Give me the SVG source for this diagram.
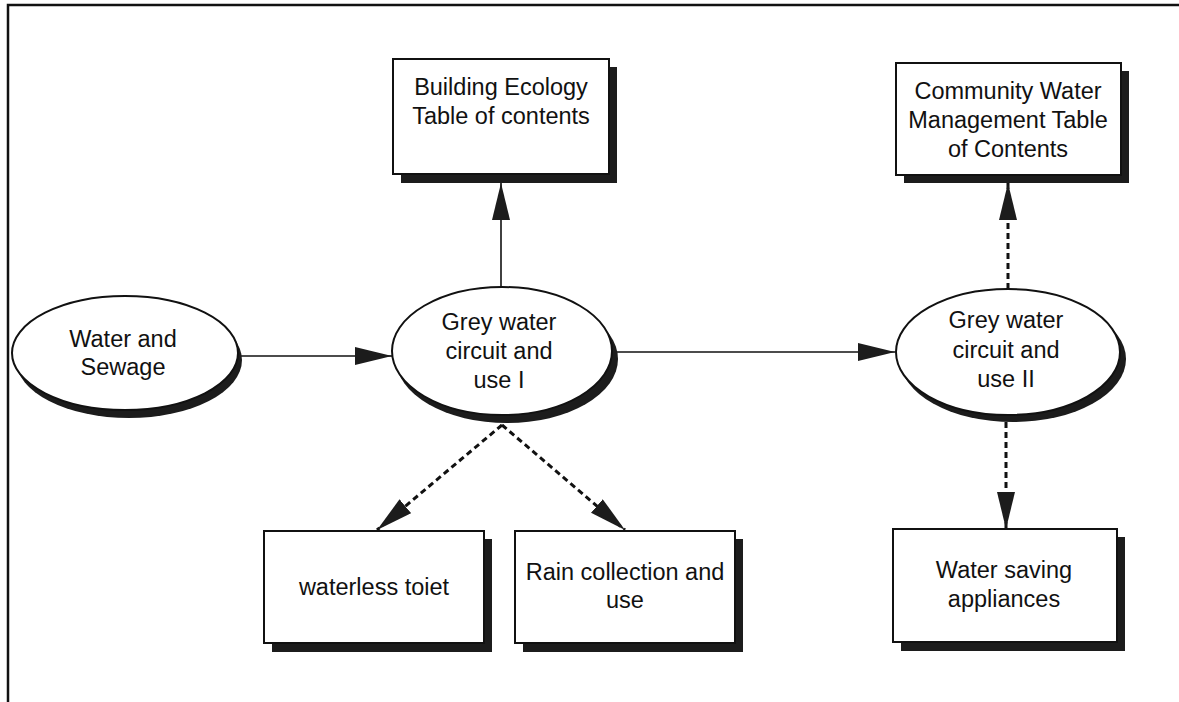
<svg xmlns="http://www.w3.org/2000/svg" width="1179" height="702" viewBox="0 0 1179 702">
  <style>
    .frame { fill: none; stroke: #111; stroke-width: 2.5; }
    .box { fill: #fff; stroke: #111; stroke-width: 2; }
    .shadow { fill: #1c1c1c; }
    .oval { fill: #fff; stroke: #111; stroke-width: 2; }
    .label { font-family: "Liberation Sans", Arial, sans-serif; font-size: 23.5px; fill: #111; text-anchor: middle; }
    .solid { fill: none; stroke: #111; stroke-width: 1.6; }
    .dashed { fill: none; stroke: #111; stroke-width: 3; stroke-dasharray: 6 4; }
  </style>
  <defs>
    <marker id="head" markerUnits="userSpaceOnUse" markerWidth="40" markerHeight="20" refX="37" refY="9" orient="auto">
      <path d="M0,0 L37,9 L0,18 Z" fill="#1c1c1c"/>
    </marker>
  </defs>

  <rect width="1179" height="702" fill="#fff"/>
  <!-- outer frame -->
  <path class="frame" d="M8,702 V5 H1179"/>

  <!-- connectors -->
  <g id="connectors">
    <line class="solid" x1="240" y1="356" x2="392" y2="356" marker-end="url(#head)"/>
    <line class="solid" x1="501" y1="287" x2="501" y2="183" marker-end="url(#head)"/>
    <line class="solid" x1="614" y1="352" x2="895" y2="352" marker-end="url(#head)"/>
    <line class="dashed" x1="1008" y1="289" x2="1008" y2="183" marker-end="url(#head)"/>
    <line class="dashed" x1="1006" y1="422" x2="1006" y2="529" marker-end="url(#head)"/>
    <line class="dashed" x1="502" y1="425" x2="377" y2="530" marker-end="url(#head)"/>
    <line class="dashed" x1="502" y1="425" x2="625" y2="530" marker-end="url(#head)"/>
  </g>

  <!-- Building Ecology -->
  <g id="building-ecology">
    <rect class="shadow" x="401" y="67" width="216" height="116"/>
    <rect class="box" x="393" y="59" width="216" height="115"/>
    <text class="label" x="501" y="95">Building Ecology</text>
    <text class="label" x="501" y="124">Table of contents</text>
  </g>

  <!-- Community Water Management -->
  <g id="community-water">
    <rect class="shadow" x="904" y="71" width="225" height="112"/>
    <rect class="box" x="896" y="63" width="225" height="112"/>
    <text class="label" x="1008" y="99">Community Water</text>
    <text class="label" x="1008" y="128">Management Table</text>
    <text class="label" x="1008" y="157">of Contents</text>
  </g>

  <!-- Water and Sewage -->
  <g id="water-sewage">
    <ellipse class="shadow" cx="129" cy="360" rx="113" ry="58"/>
    <ellipse class="oval" cx="125" cy="353" rx="113" ry="57"/>
    <text class="label" x="123" y="347">Water and</text>
    <text class="label" x="123" y="375">Sewage</text>
  </g>

  <!-- Grey water circuit and use I -->
  <g id="grey-water-1">
    <ellipse class="shadow" cx="507" cy="359" rx="111" ry="64"/>
    <ellipse class="oval" cx="502" cy="351" rx="110" ry="64"/>
    <text class="label" x="499" y="330">Grey water</text>
    <text class="label" x="499" y="359">circuit and</text>
    <text class="label" x="499" y="388">use I</text>
  </g>

  <!-- Grey water circuit and use II -->
  <g id="grey-water-2">
    <ellipse class="shadow" cx="1013" cy="359" rx="113" ry="63"/>
    <ellipse class="oval" cx="1008" cy="352" rx="112" ry="63"/>
    <text class="label" x="1006" y="328">Grey water</text>
    <text class="label" x="1006" y="358">circuit and</text>
    <text class="label" x="1006" y="387">use II</text>
  </g>

  <!-- waterless toiet -->
  <g id="waterless-toilet">
    <rect class="shadow" x="272" y="539" width="220" height="113"/>
    <rect class="box" x="264" y="531" width="220" height="112"/>
    <text class="label" x="374" y="595">waterless toiet</text>
  </g>

  <!-- Rain collection and use -->
  <g id="rain-collection">
    <rect class="shadow" x="523" y="539" width="220" height="113"/>
    <rect class="box" x="515" y="531" width="220" height="112"/>
    <text class="label" x="625" y="580">Rain collection and</text>
    <text class="label" x="625" y="608">use</text>
  </g>

  <!-- Water saving appliances -->
  <g id="water-saving">
    <rect class="shadow" x="901" y="537" width="224" height="114"/>
    <rect class="box" x="893" y="529" width="224" height="113"/>
    <text class="label" x="1004" y="578">Water saving</text>
    <text class="label" x="1004" y="607">appliances</text>
  </g>
</svg>
